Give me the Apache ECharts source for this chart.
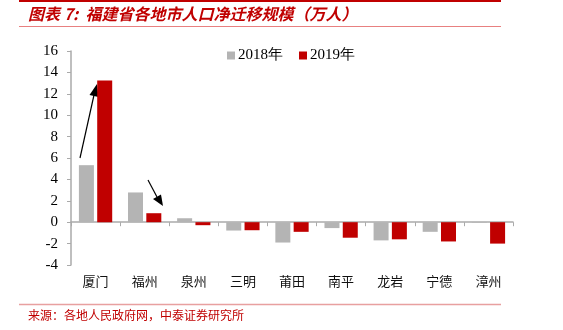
<!DOCTYPE html>
<html><head><meta charset="utf-8">
<script src="https://cdn.jsdelivr.net/npm/echarts@6/dist/echarts.min.js"></script>
<style>html,body{margin:0;padding:0;background:#fff}#c{width:563px;height:330px}</style>
</head><body><div id="c"></div>
<script>
const categories = ['厦门','福州','泉州','三明','莆田','南平','龙岩','宁德','漳州'];
const values2018 = [5.33, 2.78, 0.37, -0.78, -1.9, -0.55, -1.7, -0.9, -0.05];
const values2019 = [13.24, 0.84, -0.28, -0.75, -0.9, -1.45, -1.6, -1.8, -2.0];
const seriesNames = ['2018年','2019年'];
const yTicks = [-4,-2,0,2,4,6,8,10,12,14,16];

const chart = echarts.init(document.getElementById('c'), null, {renderer:'canvas'});
const serif = '"Liberation Serif","DejaVu Serif",serif';
const cjk = '"Noto Sans CJK SC","Noto Sans CJK JP",sans-serif';
chart.setOption({
  animation:false,
  backgroundColor:'#fff',
  grid:{left:71,right:50,top:51,bottom:65},
  legend:{
    data:seriesNames, top:43, left:222, itemWidth:8, itemHeight:8, itemGap:16,
    icon:'rect', textStyle:{fontFamily:serif, fontSize:15, color:'#000', padding:[0,0,0,-2]}
  },
  xAxis:[{
    type:'category', data:categories,
    axisLine:{onZero:true, lineStyle:{color:'#aaa', width:1.5}},
    axisTick:{show:true, length:4, lineStyle:{color:'#aaa'}},
    axisLabel:{show:false}
  },{
    type:'category', data:categories, position:'bottom',
    axisLine:{show:false}, axisTick:{show:false},
    axisLabel:{fontFamily:cjk, fontSize:13, color:'#111', margin:10}
  }],
  yAxis:{
    type:'value', min:yTicks[0], max:yTicks[yTicks.length-1], interval:2,
    axisLine:{show:true, lineStyle:{color:'#aaa', width:1.5}},
    axisTick:{show:true, length:4, lineStyle:{color:'#aaa'}},
    splitLine:{show:false},
    axisLabel:{fontFamily:serif, fontSize:15, color:'#000', margin:13}
  },
  series:[
    {name:seriesNames[0], type:'bar', data:values2018, barWidth:15, barGap:'22%',
     itemStyle:{color:'#b4b4b4'}},
    {name:seriesNames[1], type:'bar', data:values2019, barWidth:15,
     itemStyle:{color:'#c00000'}}
  ],
  graphic:[
    {type:'line', shape:{x1:19,y1:1,x2:501,y2:1}, style:{stroke:'#c00000', lineWidth:2}},
    {type:'text', left:28, top:6, style:{text:'图表 7:  福建省各地市人口净迁移规模（万人）', fill:'#c00000',
      font:'italic bold 16px "Noto Sans CJK SC", sans-serif'}},
    {type:'line', shape:{x1:19,y1:26.5,x2:501,y2:26.5}, style:{stroke:'#e88080', lineWidth:1}},
    {type:'line', shape:{x1:19,y1:304.5,x2:501,y2:304.5}, style:{stroke:'#e8a0a0', lineWidth:1.5}},
    {type:'text', left:28, top:309, style:{text:'来源：各地人民政府网，中泰证券研究所', fill:'#c00000',
      font:'12px "Noto Sans CJK SC", sans-serif'}},
    {type:'line', shape:{x1:80,y1:158,x2:94,y2:95}, style:{stroke:'#000', lineWidth:1.2}},
    {type:'polygon', shape:{points:[[97,84],[89.5,95],[98.5,97]]}, style:{fill:'#000'}},
    {type:'line', shape:{x1:148,y1:180,x2:157,y2:197}, style:{stroke:'#000', lineWidth:1.2}},
    {type:'polygon', shape:{points:[[163,206],[153,199],[161,194.5]]}, style:{fill:'#000'}}
  ]
});
</script></body></html>
